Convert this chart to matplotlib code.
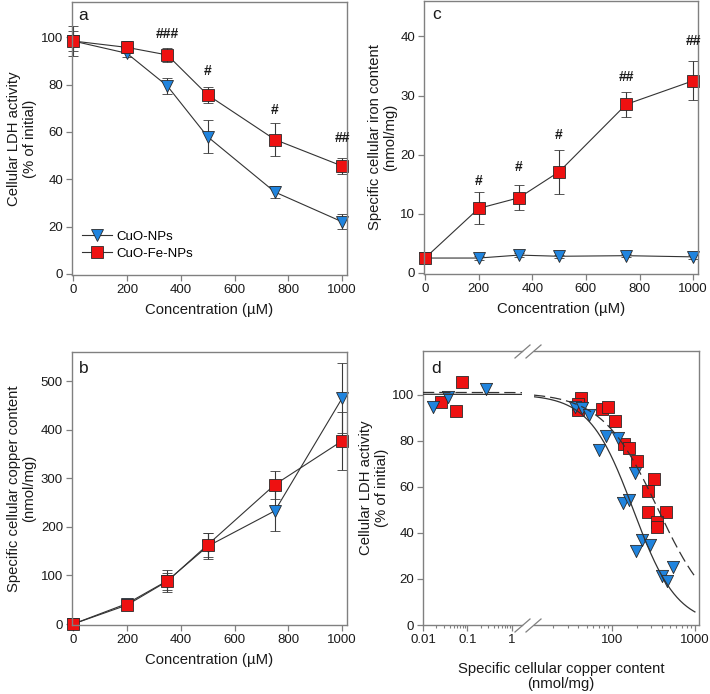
import numpy as np
import matplotlib
matplotlib.use('Agg')
import matplotlib.pyplot as plt
from matplotlib.lines import Line2D
from matplotlib.ticker import FixedLocator, FixedFormatter, NullFormatter, LogLocator

plt.rcParams['font.family'] = ['Liberation Sans', 'DejaVu Sans']

# ---------------- data ----------------
conc = [0, 200, 350, 500, 750, 1000]
series_names = ['CuO-NPs', 'CuO-Fe-NPs']

# panel a: cellular LDH activity (% of initial)
ldh_cuo = [98.5, 93.3, 79.5, 58.0, 34.6, 22.0]
ldh_cuo_err = [6.3, 1.5, 3.4, 6.9, 2.5, 3.2]
ldh_cufe = [98.5, 95.8, 92.6, 75.7, 56.8, 45.6]
ldh_cufe_err = [4.4, 2.5, 2.8, 3.4, 7.0, 3.3]
ldh_sig = ['', '', '###', '#', '#', '##']
ldh_sig_y = [None, None, 101.6, 85.8, 69.3, 57.4]

# panel b: specific cellular copper content (nmol/mg)
cu_cuo = [0, 42, 89, 160, 233, 465]
cu_cuo_err = [2, 5, 23, 27, 42, 72]
cu_cufe = [0, 39, 88, 163, 287, 377]
cu_cufe_err = [2, 5, 18, 25, 29, 60]

# panel c: specific cellular iron content (nmol/mg)
fe_cuo = [2.5, 2.5, 3.0, 2.8, 2.9, 2.7]
fe_cuo_err = [0.3, 0.3, 0.3, 0.3, 0.3, 0.3]
fe_cufe = [2.5, 10.9, 12.7, 17.1, 28.5, 32.5]
fe_cufe_err = [0.3, 2.7, 2.1, 3.7, 2.1, 3.3]
fe_sig = ['', '#', '#', '#', '##', '##']
fe_sig_y = [None, 15.5, 17.9, 23.3, 33.1, 39.3]

# panel d: LDH vs copper content (individual values)
d_cuo_x = [0.0170, 0.037, 0.27, 36, 44, 53.8, 85, 118, 70.5, 190, 138, 161, 233, 289, 196, 550, 405, 465]
d_cuo_y = [94.5, 99.0, 102.3, 94.6, 94.3, 91.1, 82.0, 81.0, 75.8, 66.1, 53.0, 54.5, 37.1, 34.9, 32.3, 25.2, 21.1, 19.0]
d_cufe_x = [0.025, 0.055, 0.074, 42.8, 39.7, 39.7, 75.8, 89.6, 109, 141.6, 161, 199, 324, 275, 276, 449, 352, 347]
d_cufe_y = [97.0, 93.0, 105.5, 98.7, 95.8, 93.2, 93.6, 94.6, 88.8, 78.4, 76.7, 71.4, 63.2, 58.1, 49.1, 49.1, 44.6, 42.4]

# fitted log-logistic curves (top, EC50, Hill slope)
fit_cuo = (100.2, 182.0, 1.65)
fit_cufe = (101.0, 359.0, 1.30)

# ---------------- style ----------------
BLUE = '#2084de'
RED = '#ee1111'
EDGE = '#2a2a2a'
LINE = '#333333'
SPINE = '#808080'
TXT = '#1a1a1a'
W, H = 710, 694

fig = plt.figure(figsize=(W / 100, H / 100), dpi=100)


def px_axes(l, t, r, b):
    return fig.add_axes([l / W, 1 - b / H, (r - l) / W, (b - t) / H])


def style(ax):
    for s in ax.spines.values():
        s.set_color(SPINE)
        s.set_linewidth(1.0)
    ax.tick_params(direction='out', length=4, width=0.9, color=SPINE,
                   labelsize=9.5, labelcolor=TXT, pad=2.5)
    ax.tick_params(which='minor', direction='out', length=2.5, width=0.8, color=SPINE)


def series(ax, x, y, err, marker, color, ms):
    cont = ax.errorbar(x, y, yerr=err, fmt='-', marker=marker, ms=ms, mfc=color,
                       mec=EDGE, mew=0.6, color=LINE, lw=0.8, ecolor='#3a3a3a',
                       elinewidth=0.8, capsize=3.8, capthick=0.8)
    for art in cont.get_children():
        art.set_clip_on(False)
    return cont


LABEL_FS = 10.7
SIG_KW = dict(ha='center', va='center', fontsize=10, fontweight='bold', color=TXT)

# ---- panel a ----
axa = px_axes(72, 2, 347, 275)
style(axa)
series(axa, conc, ldh_cuo, ldh_cuo_err, 'v', BLUE, 8.8)
series(axa, conc, ldh_cufe, ldh_cufe_err, 's', RED, 8.0)
for x, s, yy in zip(conc, ldh_sig, ldh_sig_y):
    if s:
        axa.text(x, yy, s, **SIG_KW)
axa.set_xlim(-4, 1018)
axa.set_ylim(-0.5, 115)
axa.set_xticks([0, 200, 400, 600, 800, 1000])
axa.set_yticks([0, 20, 40, 60, 80, 100])
axa.set_xlabel('Concentration (µM)', fontsize=LABEL_FS, color=TXT, labelpad=5)
axa.set_ylabel('Cellular LDH activity\n(% of initial)', fontsize=LABEL_FS, color=TXT,
               labelpad=3, linespacing=1.15)
axa.text(0.04, 0.952, 'a', transform=axa.transAxes, fontsize=12.5, ha='center', va='center', color=TXT)
handles = [Line2D([], [], color=LINE, lw=0.8, marker='v', ms=8.8, mfc=BLUE, mec=EDGE, mew=0.6),
           Line2D([], [], color=LINE, lw=0.8, marker='s', ms=8.0, mfc=RED, mec=EDGE, mew=0.6)]
axa.legend(handles, series_names, loc='upper left', bbox_to_anchor=(0.035, 0.163),
           frameon=False, fontsize=9.5, handlelength=2.3, handletextpad=0.35,
           labelspacing=0.35, borderpad=0, borderaxespad=0)

# ---- panel b ----
axb = px_axes(72, 352, 347, 625)
style(axb)
series(axb, conc, cu_cuo, cu_cuo_err, 'v', BLUE, 8.8)
series(axb, conc, cu_cufe, cu_cufe_err, 's', RED, 8.0)
axb.set_xlim(-4, 1018)
axb.set_ylim(-2, 560)
axb.set_xticks([0, 200, 400, 600, 800, 1000])
axb.set_yticks([0, 100, 200, 300, 400, 500])
axb.set_xlabel('Concentration (µM)', fontsize=LABEL_FS, color=TXT, labelpad=5)
axb.set_ylabel('Specific cellular copper content\n(nmol/mg)', fontsize=LABEL_FS, color=TXT,
               labelpad=3, linespacing=1.15)
axb.text(0.041, 0.939, 'b', transform=axb.transAxes, fontsize=12.5, ha='center', va='center', color=TXT)

# ---- panel c ----
axc = px_axes(424, 1, 698, 274)
style(axc)
series(axc, conc, fe_cuo, fe_cuo_err, 'v', BLUE, 8.8)
series(axc, conc, fe_cufe, fe_cufe_err, 's', RED, 8.0)
for x, s, yy in zip(conc, fe_sig, fe_sig_y):
    if s:
        axc.text(x, yy, s, **SIG_KW)
axc.set_xlim(-4, 1018)
axc.set_ylim(-0.2, 46)
axc.set_xticks([0, 200, 400, 600, 800, 1000])
axc.set_yticks([0, 10, 20, 30, 40])
axc.set_xlabel('Concentration (µM)', fontsize=LABEL_FS, color=TXT, labelpad=5)
axc.set_ylabel('Specific cellular iron content\n(nmol/mg)', fontsize=LABEL_FS, color=TXT,
               labelpad=2, linespacing=1.15)
axc.text(0.047, 0.949, 'c', transform=axc.transAxes, fontsize=12.5, ha='center', va='center', color=TXT)

# ---- panel d (broken log axis) ----
XL_L, XL_R = (0.01, 1.71), (11.7, 1120)
axdl = px_axes(423, 351, 522, 625)
axdr = px_axes(534, 351, 699, 625)
cuo_x, cuo_y = np.array(d_cuo_x), np.array(d_cuo_y)
cufe_x, cufe_y = np.array(d_cufe_x), np.array(d_cufe_y)
for ax, xl in ((axdl, XL_L), (axdr, XL_R)):
    style(ax)
    ax.set_xscale('log')
    ax.set_xlim(*xl)
    ax.set_ylim(0, 119)
    m = (cufe_x >= xl[0]) & (cufe_x <= xl[1])
    ax.scatter(cufe_x[m], cufe_y[m], marker='s', s=8.0 ** 2, c=RED, edgecolors=EDGE,
               linewidths=0.6, zorder=3, clip_on=False)
    m = (cuo_x >= xl[0]) & (cuo_x <= xl[1])
    ax.scatter(cuo_x[m], cuo_y[m], marker='v', s=8.8 ** 2, c=BLUE, edgecolors=EDGE,
               linewidths=0.6, zorder=3, clip_on=False)
    xs = np.logspace(np.log10(xl[0]), np.log10(min(xl[1], 1000)), 300)
    top, ec, h = fit_cuo
    ax.plot(xs, top / (1 + (xs / ec) ** h), color=LINE, lw=0.9, zorder=4)
    top, ec, h = fit_cufe
    ax.plot(xs, top / (1 + (xs / ec) ** h), color=LINE, lw=0.9, zorder=4,
            dashes=(9, 4))
    ax.xaxis.set_minor_locator(LogLocator(base=10, subs=np.arange(2, 10)))
    ax.xaxis.set_minor_formatter(NullFormatter())

axdl.spines['right'].set_visible(False)
axdr.spines['left'].set_visible(False)
axdr.tick_params(axis='y', left=False, labelleft=False)
axdl.xaxis.set_major_locator(FixedLocator([0.01, 0.1, 1]))
axdl.xaxis.set_major_formatter(FixedFormatter(['0.01', '0.1', '1']))
axdr.xaxis.set_major_locator(FixedLocator([100, 1000]))
axdr.xaxis.set_major_formatter(FixedFormatter(['100', '1000']))
axdl.set_yticks([0, 20, 40, 60, 80, 100])
axdl.set_ylabel('Cellular LDH activity\n(% of initial)', fontsize=LABEL_FS, color=TXT,
                labelpad=2, linespacing=1.15)
axdl.text(0.13, 0.935, 'd', transform=axdl.transAxes, fontsize=12.5, ha='center', va='center', color=TXT)
fig.text(561 / W, 1 - 662 / H, 'Specific cellular copper content\n(nmol/mg)', ha='center',
         va='top', fontsize=LABEL_FS, color=TXT, linespacing=1.1)

# break marks
for yb in (351.5, 625.5):
    for xc in (522.5, 533.5):
        fig.add_artist(Line2D([(xc - 7.5) / W, (xc + 7.5) / W],
                              [1 - (yb + 6.5) / H, 1 - (yb - 6.5) / H],
                              color=SPINE, lw=0.9))

fig.savefig('out.png', dpi=100)
